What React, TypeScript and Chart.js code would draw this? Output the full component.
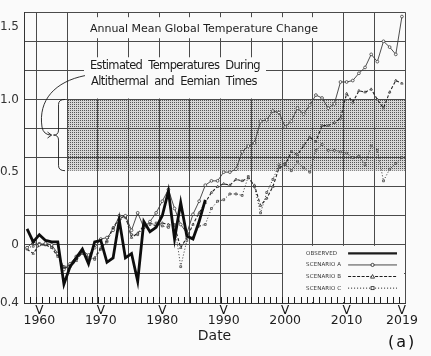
import React, { useEffect, useRef } from "react";
import { Chart, registerables } from "chart.js";

Chart.register(...registerables);

// ---------- data ----------
const years = [
  1958, 1959, 1960, 1961, 1962, 1963, 1964, 1965, 1966, 1967,
  1968, 1969, 1970, 1971, 1972, 1973, 1974, 1975, 1976, 1977,
  1978, 1979, 1980, 1981, 1982, 1983, 1984, 1985, 1986, 1987,
  1988, 1989, 1990, 1991, 1992, 1993, 1994, 1995, 1996, 1997,
  1998, 1999, 2000, 2001, 2002, 2003, 2004, 2005, 2006, 2007,
  2008, 2009, 2010, 2011, 2012, 2013, 2014, 2015, 2016, 2017,
  2018, 2019,
];

// observed 1958-1987
const observed = [
  0.11, 0.02, 0.07, 0.03, 0.02, 0.02, -0.27, -0.15, -0.09, -0.03,
  -0.13, 0.02, 0.03, -0.12, -0.09, 0.17, -0.09, -0.06, -0.25, 0.16,
  0.09, 0.12, 0.2, 0.37, 0.04, 0.29, 0.06, 0.04, 0.16, 0.31,
];

const scenarioA = [
  -0.02, 0.02, 0.0, 0.01, 0.0, -0.06, -0.17, -0.13, -0.08, -0.04,
  -0.07, -0.02, 0.04, 0.05, 0.1, 0.2, 0.2, 0.1, 0.22, 0.12,
  0.16, 0.22, 0.3, 0.38, 0.25, 0.14, 0.08, 0.21, 0.3, 0.41,
  0.44, 0.44, 0.5, 0.5, 0.52, 0.64, 0.68, 0.7, 0.85, 0.86,
  0.92, 0.91, 0.81, 0.85, 0.94, 0.9, 0.96, 1.03, 1.01, 0.94,
  0.97, 1.12, 1.12, 1.13, 1.18, 1.22, 1.31, 1.26, 1.4, 1.36,
  1.31, 1.57,
];

const scenarioB = [
  -0.03, -0.06, 0.0, 0.0, -0.02, -0.08, -0.16, -0.15, -0.11, -0.05,
  -0.1, -0.09, -0.02, 0.03, 0.12, 0.18, 0.2, 0.05, 0.08, 0.13,
  0.15, 0.13, 0.15, 0.14, 0.13, -0.02, 0.05, 0.14, 0.22, 0.29,
  0.36, 0.4, 0.42, 0.41, 0.45, 0.44, 0.46, 0.41, 0.27, 0.32,
  0.4, 0.53, 0.55, 0.64, 0.62, 0.68, 0.74, 0.71, 0.82, 0.82,
  0.84, 0.87, 1.04, 0.98, 1.06, 1.05, 1.07, 1.0, 0.94, 1.05,
  1.13, 1.11,
];

const scenarioC = [
  -0.02, -0.01, 0.01, 0.0, -0.01, -0.07, -0.15, -0.14, -0.1, -0.06,
  -0.08, -0.1, -0.03, 0.02, 0.11, 0.17, 0.19, 0.07, 0.07, 0.12,
  0.14, 0.15, 0.13, 0.12, 0.14, -0.15, 0.03, 0.05, 0.13, 0.14,
  0.25, 0.3, 0.31, 0.35, 0.35, 0.34, 0.47, 0.4, 0.22, 0.36,
  0.45, 0.55, 0.56, 0.51, 0.57, 0.53, 0.5, 0.65, 0.69, 0.65,
  0.65, 0.64, 0.63, 0.6, 0.61, 0.55, 0.68, 0.65, 0.44, 0.52,
  0.56, 0.6,
];

// axis ticks / labels
const yLabelValues = [1.5, 1.0, 0.5, 0, -0.4];
const yLabelTexts = ["1.5", "1.0", "0.5", "0", "-0.4"];
const xLabelYears = [1960, 1970, 1980, 1990, 2000, 2010, 2019];
const xGridYears = [1960, 1965, 1970, 1975, 1980, 1985, 1990, 1995, 2000, 2005, 2010, 2015, 2020];
const xRange = [1958, 2020];
const yRange = [-0.4, 1.6];

// shaded band (Altithermal / Eemian estimate)
const bandYears = [1965, 2020];
const bandValues = [0.51, 1.0];

// legend
const legendLabels = ["OBSERVED", "SCENARIO A", "SCENARIO B", "SCENARIO C"];
const legendBoxFromYear = 2000;

const titleText = "Annual Mean Global Temperature Change";
const noteLines = ["Estimated  Temperatures  During", "Altithermal  and  Eemian  Times"];

// ---------- styles ----------
const BG = "#fafafa";
const INK = "#1c1c1c";
const GRID = "#4a4a4a";
const FONT = '"DejaVu Sans", sans-serif';

function fitText(ctx: CanvasRenderingContext2D, text: string, x: number, y: number, width: number, size: number) {
  ctx.font = `${size}px ${FONT}`;
  const w = ctx.measureText(text).width;
  const ls = (width - w) / Math.max(1, text.length);
  (ctx as any).letterSpacing = `${ls}px`;
  ctx.fillText(text, x, y);
  (ctx as any).letterSpacing = "0px";
}

function makePattern(ctx: CanvasRenderingContext2D) {
  const pc = document.createElement("canvas");
  pc.width = 2;
  pc.height = 2;
  const p = pc.getContext("2d")!;
  p.fillStyle = "#d6d6d6";
  p.fillRect(0, 0, 2, 2);
  p.fillStyle = "#555555";
  p.fillRect(0, 0, 1, 1);
  return ctx.createPattern(pc, "repeat")!;
}

const decor = {
  id: "decor",
  beforeDraw(chart: any) {
    const { ctx, scales } = chart;
    const x = scales.x, y = scales.y;
    ctx.save();
    ctx.fillStyle = BG;
    ctx.fillRect(0, 0, chart.width, chart.height);
    const x0 = x.getPixelForValue(bandYears[0]);
    const x1 = x.getPixelForValue(bandYears[1]);
    const y0 = y.getPixelForValue(bandValues[1]);
    const y1 = y.getPixelForValue(bandValues[0]);
    ctx.fillStyle = makePattern(ctx);
    ctx.fillRect(x0, y0, x1 - x0, y1 - y0);
    ctx.restore();
  },
  beforeDatasetsDraw(chart: any) {
    const { ctx, chartArea: a, scales } = chart;
    const x = scales.x, y = scales.y;
    ctx.save();
    ctx.fillStyle = BG;
    // legend box clears the grid
    const left = x.getPixelForValue(legendBoxFromYear);
    const top = y.getPixelForValue(0);
    ctx.fillRect(left + 1, top + 1, a.right - left - 2, a.bottom - top - 2);
    // boxes behind title and note lettering
    const tx = x.getPixelForValue(1968.74);
    ctx.fillRect(tx - 5, a.top + 5, 240, 21);
    const nTop = y.getPixelForValue(1.29);
    const nBot = y.getPixelForValue(bandValues[1]);
    ctx.fillRect(tx - 6, nTop, 182, nBot - nTop - 1);
    ctx.restore();
  },
  afterDatasetsDraw(chart: any) {
    const { ctx, chartArea: a, scales } = chart;
    const x = scales.x, y = scales.y;
    ctx.save();
    ctx.strokeStyle = INK;
    ctx.fillStyle = INK;

    // minor year ticks along the bottom
    ctx.lineWidth = 1;
    ctx.beginPath();
    years.slice(1).forEach((yr) => {
      const px = Math.round(x.getPixelForValue(yr)) + 0.5;
      ctx.moveTo(px, a.bottom);
      ctx.lineTo(px, a.bottom - 6);
    });
    ctx.stroke();

    // title and note text
    ctx.textBaseline = "alphabetic";
    ctx.textAlign = "left";
    fitText(ctx, titleText, x.getPixelForValue(1968.74), y.getPixelForValue(1.464), 228, 11);
    fitText(ctx, noteLines[0], x.getPixelForValue(1968.74), y.getPixelForValue(1.212), 170, 11.5);
    fitText(ctx, noteLines[1], x.getPixelForValue(1968.9), y.getPixelForValue(1.102), 166, 11.5);

    // brace
    const bandL = x.getPixelForValue(bandYears[0]);
    const bt = y.getPixelForValue(bandValues[1]);
    const bb = y.getPixelForValue(bandValues[0]);
    const bm = (bt + bb) / 2;
    const sx = bandL - 8.5;
    ctx.lineWidth = 0.9;
    ctx.beginPath();
    ctx.moveTo(bandL - 2, bt);
    ctx.quadraticCurveTo(sx, bt, sx, bt + 5);
    ctx.lineTo(sx, bm - 5);
    ctx.quadraticCurveTo(sx, bm, sx - 5, bm);
    ctx.quadraticCurveTo(sx, bm, sx, bm + 5);
    ctx.lineTo(sx, bb - 5);
    ctx.quadraticCurveTo(sx, bb, bandL - 2, bb);
    ctx.stroke();

    // curved arrow from the note to the brace
    const ax0 = x.getPixelForValue(1968.9) - 6;
    const ay0 = y.getPixelForValue(1.102) - 9;
    const tipX = sx - 7;
    ctx.beginPath();
    ctx.moveTo(ax0, ay0);
    ctx.bezierCurveTo(ax0 - 30, ay0 + 6, 38, bm - 35, 42, bm - 8);
    ctx.quadraticCurveTo(43.5, bm, tipX, bm);
    ctx.stroke();
    ctx.beginPath();
    ctx.moveTo(tipX - 4, bm - 3);
    ctx.lineTo(tipX, bm);
    ctx.lineTo(tipX - 4, bm + 3);
    ctx.stroke();

    // legend
    const boxL = x.getPixelForValue(legendBoxFromYear);
    const boxT = y.getPixelForValue(0);
    const textX = boxL + 24;
    const l0 = boxL + 66;
    const l1 = a.right - 8;
    const lm = (l0 + l1) / 2;
    ctx.textBaseline = "middle";
    legendLabels.forEach((lab, i) => {
      const ry = boxT + 8.5 + i * 11.6;
      ctx.fillStyle = "#333";
      fitText(ctx, lab, textX, ry, i === 0 ? 31 : 35, 5.5);
      ctx.strokeStyle = INK;
      ctx.beginPath();
      if (i === 0) {
        ctx.lineWidth = 2.4;
        ctx.setLineDash([]);
      } else if (i === 1) {
        ctx.lineWidth = 0.8;
        ctx.setLineDash([]);
      } else if (i === 2) {
        ctx.lineWidth = 1.1;
        ctx.setLineDash([3, 1.5]);
      } else {
        ctx.lineWidth = 1;
        ctx.setLineDash([1, 2]);
      }
      ctx.moveTo(l0, ry);
      ctx.lineTo(l1, ry);
      ctx.stroke();
      ctx.setLineDash([]);
      ctx.lineWidth = 0.8;
      if (i === 1) {
        ctx.fillStyle = BG;
        ctx.beginPath();
        ctx.arc(lm, ry, 1.6, 0, Math.PI * 2);
        ctx.fill();
        ctx.stroke();
      } else if (i === 2) {
        ctx.fillStyle = BG;
        ctx.beginPath();
        ctx.moveTo(lm, ry - 2);
        ctx.lineTo(lm + 2, ry + 1.6);
        ctx.lineTo(lm - 2, ry + 1.6);
        ctx.closePath();
        ctx.fill();
        ctx.stroke();
      } else if (i === 3) {
        ctx.fillStyle = BG;
        ctx.fillRect(lm - 1.5, ry - 1.5, 3, 3);
        ctx.strokeRect(lm - 1.5, ry - 1.5, 3, 3);
      }
    });
    ctx.restore();
  },
  afterDraw(chart: any) {
    const { ctx, chartArea: a, scales } = chart;
    const x = scales.x;
    ctx.save();
    ctx.fillStyle = "#111";
    // "V" markers above the year labels
    ctx.font = `12px ${FONT}`;
    ctx.textAlign = "center";
    ctx.textBaseline = "middle";
    xLabelYears.forEach((yr) => {
      ctx.fillText("V", x.getPixelForValue(yr + 0.5), a.bottom + 7.5);
    });
    // panel label
    ctx.textAlign = "left";
    ctx.textBaseline = "alphabetic";
    ctx.font = `16px ${FONT}`;
    (ctx as any).letterSpacing = "2px";
    ctx.fillText("(a)", a.right - 17, chart.height - 9);
    (ctx as any).letterSpacing = "0px";
    ctx.restore();
  },
};

function toPoints(vals: number[]) {
  return vals.map((v, i) => ({ x: years[i] + 0.5, y: v }));
}

const isMultiple = (v: number, step: number) => Math.abs(Math.round(v / step) * step - v) < 1e-6;

export default function App() {
  const ref = useRef<HTMLCanvasElement | null>(null);

  useEffect(() => {
    if (!ref.current) return;
    const markerCommon = {
      pointRadius: 1.4,
      pointBorderWidth: 0.7,
      pointBackgroundColor: BG,
      pointBorderColor: "#2a2a2a",
      tension: 0,
      fill: false,
    };
    const chart = new Chart(ref.current, {
      type: "line",
      data: {
        datasets: [
          { label: "OBSERVED", data: toPoints(observed), borderColor: "#0d0d0d", borderWidth: 2.8, pointRadius: 0, tension: 0, fill: false },
          { label: "SCENARIO A", data: toPoints(scenarioA), borderColor: "#3a3a3a", borderWidth: 0.9, pointStyle: "circle", ...markerCommon },
          { label: "SCENARIO B", data: toPoints(scenarioB), borderColor: "#222", borderWidth: 1.1, borderDash: [3, 2], pointStyle: "triangle", ...markerCommon },
          { label: "SCENARIO C", data: toPoints(scenarioC), borderColor: "#333", borderWidth: 1, borderDash: [1, 2], pointStyle: "rect", ...markerCommon, pointRadius: 1.3 },
        ],
      },
      options: {
        responsive: false,
        animation: false,
        devicePixelRatio: 1,
        layout: { padding: { top: 10, right: 26, left: 0, bottom: 0 } },
        plugins: { legend: { display: false }, tooltip: { enabled: false }, title: { display: false } },
        scales: {
          x: {
            type: "linear",
            min: xRange[0],
            max: xRange[1],
            afterFit: (s: any) => {
              s.height = 53;
            },
            afterBuildTicks: (s: any) => {
              const ticks = [
                ...xGridYears.map((v) => ({ value: v })),
                ...xLabelYears.map((v) => ({ value: v + 0.5 })),
              ];
              ticks.sort((p, q) => p.value - q.value);
              s.ticks = ticks;
            },
            grid: {
              drawTicks: false,
              lineWidth: 1,
              color: (c: any) => (c.tick && isMultiple(c.tick.value, 1) ? GRID : "rgba(0,0,0,0)"),
            },
            border: { display: true, color: "#333", width: 1 },
            ticks: {
              autoSkip: false,
              maxRotation: 0,
              padding: 11,
              color: INK,
              font: { family: FONT, size: 12.5, lineHeight: 1.0 },
              callback: (v: any) => {
                const val = Number(v);
                if (isMultiple(val, 1)) return "";
                const yr = Math.round(val - 0.5);
                return xLabelYears.includes(yr) ? String(yr) : "";
              },
            },
            title: {
              display: true,
              text: "Date",
              color: INK,
              font: { family: FONT, size: 14 },
              padding: { top: 0, bottom: 11 },
            },
          },
          y: {
            type: "linear",
            min: yRange[0],
            max: yRange[1],
            afterFit: (s: any) => {
              s.width = 24;
            },
            afterBuildTicks: (s: any) => {
              const ticks = [];
              for (let k = 0; k <= 20; k++) ticks.push({ value: Math.round((yRange[0] + k * 0.1) * 10) / 10 });
              s.ticks = ticks;
            },
            grid: {
              drawTicks: false,
              lineWidth: 1,
              color: (c: any) => (c.tick && isMultiple(c.tick.value, 0.2) ? GRID : "rgba(0,0,0,0)"),
            },
            border: { display: true, color: "#333", width: 1 },
            ticks: {
              autoSkip: false,
              padding: 5,
              color: "#333",
              font: { family: FONT, size: 12 },
              callback: (v: any) => {
                const idx = yLabelValues.findIndex((t) => Math.abs(t - Number(v)) < 1e-6);
                return idx >= 0 ? yLabelTexts[idx] : "";
              },
            },
          },
        },
      },
      plugins: [decor],
    } as any);
    return () => chart.destroy();
  }, []);

  return (
    <div style={{ position: "absolute", left: 0, top: 0, width: 431, height: 356, background: BG }}>
      <canvas ref={ref} width={431} height={356} style={{ display: "block" }} />
    </div>
  );
}
